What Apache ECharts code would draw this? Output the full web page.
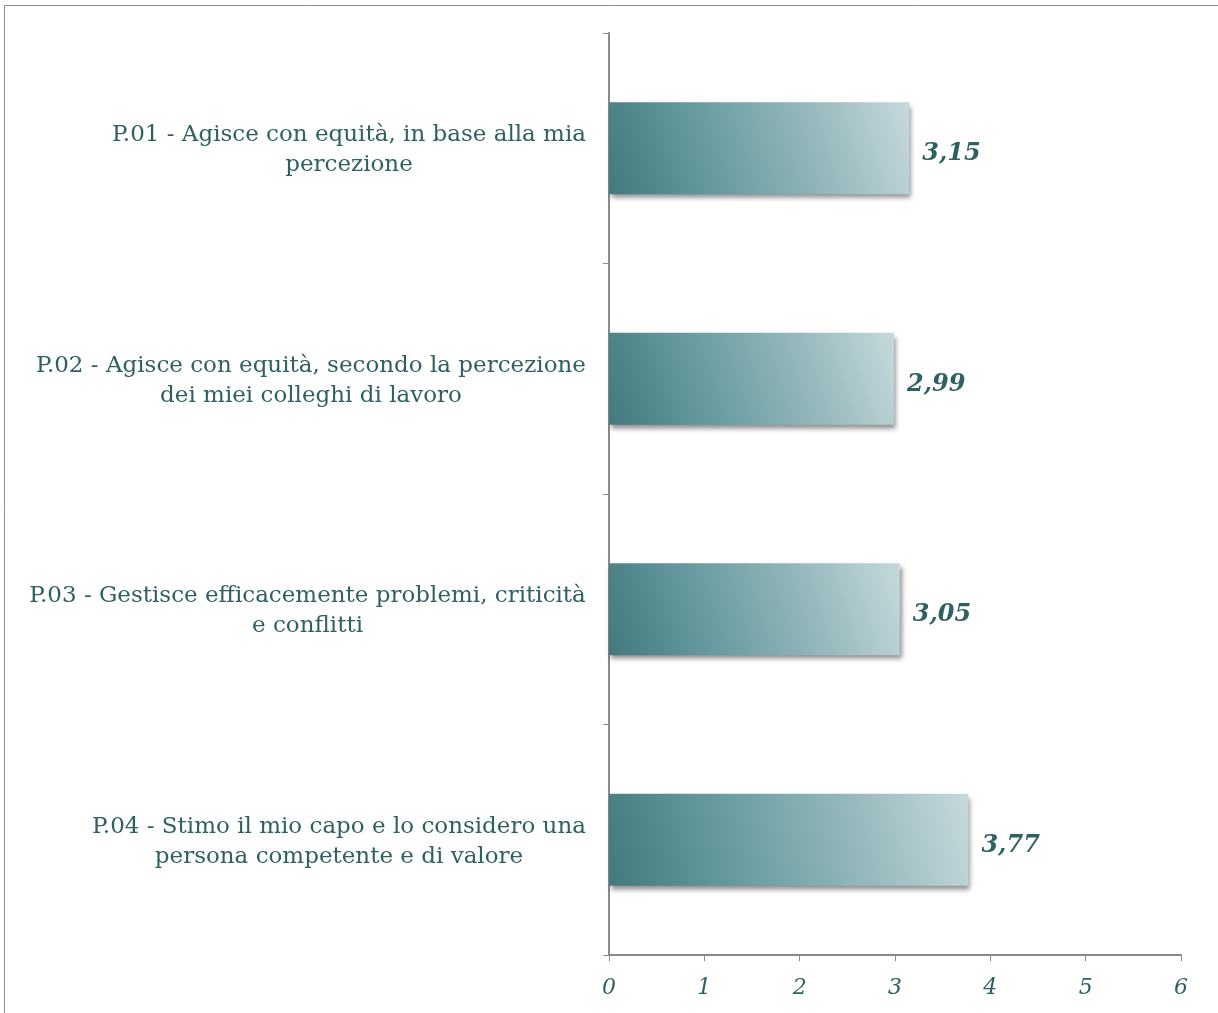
<!DOCTYPE html>
<html>
<head>
<meta charset="utf-8">
<script src="https://cdn.jsdelivr.net/npm/echarts@6/dist/echarts.min.js"></script>
<style>
html,body{margin:0;padding:0;background:#fff;}
#chart{width:1218px;height:1013px;}
</style>
</head>
<body>
<div id="chart"></div>
<script>
// ---- data ----
var categoryLines = [
  ["P.01 - Agisce con equità, in base alla mia", "percezione"],
  ["P.02 - Agisce con equità, secondo la percezione", "dei miei colleghi di lavoro"],
  ["P.03 - Gestisce efficacemente problemi, criticità", "e conflitti"],
  ["P.04 - Stimo il mio capo e lo considero una", "persona competente e di valore"]
];
var categories = ["P.01", "P.02", "P.03", "P.04"];
var values = [3.15, 2.99, 3.05, 3.77];
var xTicks = [0, 1, 2, 3, 4, 5, 6];

// ---- styling ----
var TEXT = '#2f6062';
var FONT_FAMILY = '"DejaVu Serif", "Liberation Serif", serif';
var LABEL_SIZE = 23;
var AXIS = '#8a8a8a';

var ctx = document.createElement('canvas').getContext('2d');
ctx.font = LABEL_SIZE + 'px ' + FONT_FAMILY;
var rich = {};
categoryLines.forEach(function (lines, i) {
  var w = 0;
  lines.forEach(function (l) { w = Math.max(w, ctx.measureText(l).width); });
  rich['c' + i] = {
    width: Math.ceil(w) + 2,
    align: 'center',
    color: TEXT,
    fontFamily: FONT_FAMILY,
    fontSize: LABEL_SIZE,
    lineHeight: 30
  };
});

var chart = echarts.init(document.getElementById('chart'));
chart.setOption({
  animation: false,
  backgroundColor: '#ffffff',
  graphic: [{
    type: 'rect',
    shape: { x: 4.5, y: 5.5, width: 1230, height: 1030 },
    style: { fill: 'none', stroke: '#8c8c8c', lineWidth: 1 },
    silent: true
  }],
  grid: { left: 609, right: 37, top: 33, bottom: 58, containLabel: false },
  xAxis: {
    type: 'value',
    min: 0, max: 6, interval: 1,
    splitLine: { show: false },
    axisLine: { show: true, lineStyle: { color: AXIS, width: 2 } },
    axisTick: { show: true, length: 6, lineStyle: { color: AXIS, width: 1 } },
    axisLabel: {
      margin: 22,
      color: TEXT,
      fontFamily: FONT_FAMILY,
      fontStyle: 'italic',
      fontSize: 22,
      formatter: function (v) { return xTicks.indexOf(v) >= 0 ? String(v) : ''; }
    }
  },
  yAxis: {
    type: 'category',
    inverse: true,
    data: categories,
    axisLine: { show: true, lineStyle: { color: AXIS, width: 2 } },
    axisTick: { show: true, length: 6, lineStyle: { color: AXIS, width: 1 } },
    axisLabel: {
      margin: 22,
      padding: [4, 0, 0, 0],
      formatter: function (v, i) {
        return categoryLines[i].map(function (l) { return '{c' + i + '|' + l + '}'; }).join('\n');
      },
      rich: rich
    }
  },
  series: [{
    type: 'bar',
    data: values,
    barWidth: '40%',
    itemStyle: {
      color: new echarts.graphic.LinearGradient(0, 1, 1, 0, [
        { offset: 0, color: '#437a7e' },
        { offset: 0.35, color: '#689ca0' },
        { offset: 0.7, color: '#98babe' },
        { offset: 1, color: '#c6d9dc' }
      ]),
      shadowColor: 'rgba(0,0,0,0.45)',
      shadowBlur: 5,
      shadowOffsetX: 2,
      shadowOffsetY: 4
    },
    label: {
      show: true,
      position: 'right',
      distance: 13,
      offset: [0, 6],
      color: TEXT,
      fontFamily: FONT_FAMILY,
      fontStyle: 'italic',
      fontWeight: 'bold',
      fontSize: 24,
      formatter: function (p) { return p.value.toFixed(2).replace('.', ','); }
    }
  }]
});
</script>
</body>
</html>
